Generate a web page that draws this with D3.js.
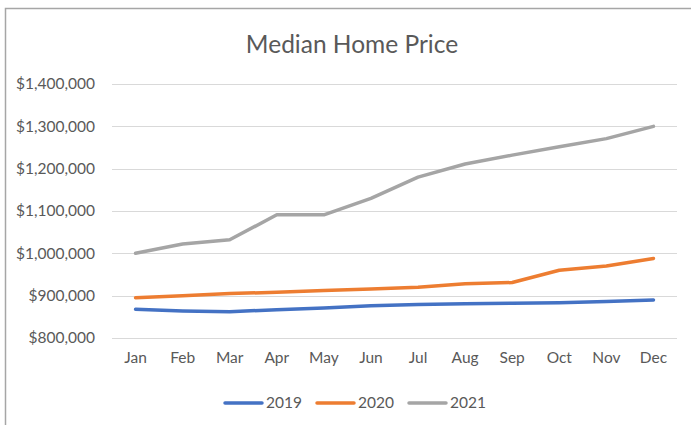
<!DOCTYPE html>
<html>
<head>
<meta charset="utf-8">
<script src="https://cdn.jsdelivr.net/npm/d3@7"></script>
<style>
  body { margin: 0; background: #fff; }
  svg text { font-family: Lato, "Open Sans", sans-serif; fill: #595959; }
</style>
</head>
<body>
<div id="chart"></div>
<script>
var months = ["Jan","Feb","Mar","Apr","May","Jun","Jul","Aug","Sep","Oct","Nov","Dec"];
var seriesNames = ["2019", "2020", "2021"];
var v2019 = [868000, 864000, 862000, 867000, 871000, 876000, 879000, 881000, 882000, 883000, 886000, 890000];
var v2020 = [895000, 900000, 905000, 908000, 912000, 916000, 920000, 928000, 931000, 960000, 970000, 988000];
var v2021 = [1000000, 1022000, 1032000, 1091000, 1091000, 1130000, 1180000, 1211000, 1232000, 1252000, 1271000, 1300000];
var yTicks = [800000, 900000, 1000000, 1100000, 1200000, 1300000, 1400000];
var colors = ["#4472C4", "#ED7D31", "#A5A5A5"];

var width = 691, height = 425;
var svg = d3.select("#chart").append("svg")
    .attr("width", width)
    .attr("height", height);

// outer frame (runs off the right and bottom edges)
svg.append("rect")
    .attr("x", 5.5).attr("y", 8.5)
    .attr("width", 700).attr("height", 430)
    .attr("fill", "none")
    .attr("stroke", "#a6a6a6")
    .attr("stroke-width", 1.5);

var x = d3.scaleBand()
    .domain(months)
    .range([112, 677]);

var y = d3.scaleLinear()
    .domain([800000, 1400000])
    .range([338, 84]);

// gridlines
svg.append("g").selectAll("line")
    .data(yTicks)
    .enter().append("line")
    .attr("x1", 112).attr("x2", 677)
    .attr("y1", function(d) { return Math.round(y(d)) + 0.5; })
    .attr("y2", function(d) { return Math.round(y(d)) + 0.5; })
    .attr("stroke", "#d9d9d9")
    .attr("stroke-width", 1);

var fmt = function(d) { return "$" + d3.format(",")(d); };

svg.append("g").selectAll("text")
    .data(yTicks)
    .enter().append("text")
    .attr("x", 95)
    .attr("y", function(d) { return y(d); })
    .attr("dy", "0.35em")
    .attr("text-anchor", "end")
    .style("font-size", "15.5px")
    .text(fmt);

svg.append("g").selectAll("text")
    .data(months)
    .enter().append("text")
    .attr("x", function(d) { return x(d) + x.bandwidth() / 2; })
    .attr("y", 363)
    .attr("text-anchor", "middle")
    .style("font-size", "15.5px")
    .text(function(d) { return d; });

// title
svg.append("text")
    .attr("x", 352)
    .attr("y", 53)
    .attr("text-anchor", "middle")
    .style("font-size", "24.5px")
    .text("Median Home Price");

var line = d3.line()
    .x(function(d, i) { return x(months[i]) + x.bandwidth() / 2; })
    .y(function(d) { return y(d); });

[v2019, v2020, v2021].forEach(function(vals, k) {
  svg.append("path")
    .datum(vals)
    .attr("d", line)
    .attr("fill", "none")
    .attr("stroke", colors[k])
    .attr("stroke-width", 3.5)
    .attr("stroke-linecap", "round")
    .attr("stroke-linejoin", "round");
});

// legend
var legend = svg.append("g").attr("transform", "translate(224,403)");
var lx = [0, 92, 184];
seriesNames.forEach(function(name, k) {
  var g = legend.append("g").attr("transform", "translate(" + lx[k] + ",0)");
  g.append("line")
    .attr("x1", 1).attr("x2", 38)
    .attr("y1", 0).attr("y2", 0)
    .attr("stroke", colors[k])
    .attr("stroke-width", 3.5)
    .attr("stroke-linecap", "round");
  g.append("text")
    .attr("x", 42)
    .attr("y", 0)
    .attr("dy", "0.35em")
    .style("font-size", "15.5px")
    .text(name);
});
</script>
</body>
</html>
